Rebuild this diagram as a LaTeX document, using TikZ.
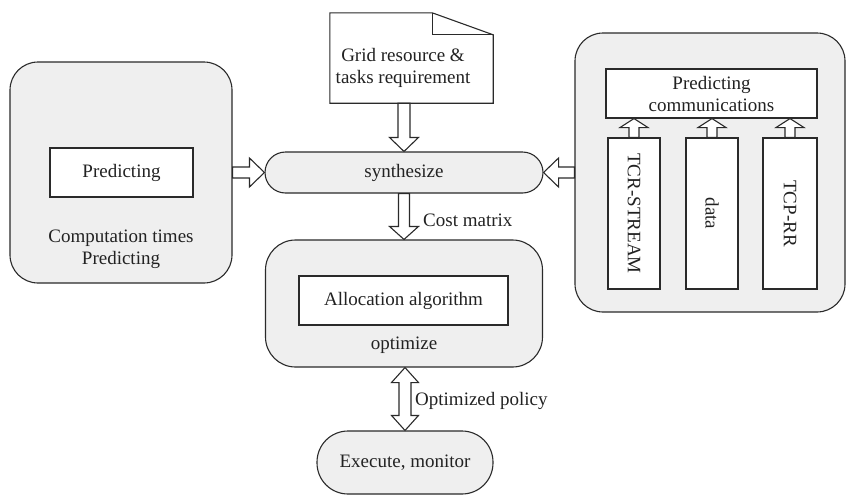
\documentclass[tikz,border=0pt]{standalone}
\usepackage{fontspec}
\setmainfont{Liberation Serif}
\usetikzlibrary{calc}
\definecolor{linec}{HTML}{2A2A2A}
\definecolor{boxfill}{HTML}{EFEFEF}
\definecolor{txtc}{HTML}{222222}
\tikzset{
  every node/.style={font=\fontsize{19pt}{22pt}\selectfont, text=txtc},
  bigbox/.style={draw=linec, fill=boxfill, line width=1.1pt, rounded corners=28pt, inner sep=0pt},
  inbox/.style={draw=linec, fill=white, line width=1.1pt, inner sep=0pt, align=center},
  capsule/.style={draw=linec, fill=boxfill, line width=1.1pt, inner sep=0pt},
  plain/.style={inner sep=0pt, align=center},
  arrowline/.style={draw=linec, fill=white, line width=1.1pt, line join=miter},
}
% single block arrow: #1 from, #2 to, #3 shaft half width, #4 head half width, #5 head length
\newcommand\blkarrow[5]{%
  \coordinate (hb) at ($(#2)!#5!(#1)$);
  \draw[arrowline] ($(#1)!#3!90:(#2)$) -- ($(hb)!#3!90:(#2)$) -- ($(hb)!#4!90:(#2)$) -- (#2)
    -- ($(hb)!#4!-90:(#2)$) -- ($(hb)!#3!-90:(#2)$) -- ($(#1)!#3!-90:(#2)$) -- cycle;}
% double block arrow
\newcommand\dblkarrow[5]{%
  \coordinate (hbb) at ($(#2)!#5!(#1)$);
  \coordinate (hba) at ($(#1)!#5!(#2)$);
  \draw[arrowline] (#1) -- ($(hba)!#4!-90:(#1)$) -- ($(hba)!#3!-90:(#1)$)
    -- ($(hbb)!#3!90:(#2)$) -- ($(hbb)!#4!90:(#2)$) -- (#2)
    -- ($(hbb)!#4!-90:(#2)$) -- ($(hbb)!#3!-90:(#2)$)
    -- ($(hba)!#3!90:(#1)$) -- ($(hba)!#4!90:(#1)$) -- cycle;}
\begin{document}
\begin{tikzpicture}[x=1pt,y=-1pt]
\useasboundingbox (0,0) rectangle (846,496);

% left box
\node[bigbox, minimum width=222pt, minimum height=221pt] (comp) at (121,172.5) {};
\node[inbox, minimum width=143pt, minimum height=49pt] (pred) at (121.5,172.5) {Predicting};
\node[plain] (comptxt) at (121,249) {Computation times\\Predicting};

% synthesize
\node[capsule, minimum width=278pt, minimum height=41pt, rounded corners=20.5pt] (synth) at (404,172.5) {synthesize};

% document
\node[minimum width=163pt, minimum height=90pt, inner sep=0pt] (doc) at (411.5,58) {};
\draw[arrowline] (doc.north west) -- ($(doc.north east)+(-61,0)$) -- ($(doc.north east)+(0,22)$)
  -- (doc.south east) -- (doc.south west) -- cycle;
\draw[draw=linec, line width=1.1pt] ($(doc.north east)+(-61,0)$) -- ($(doc.north east)+(-61,22)$) -- ($(doc.north east)+(0,22)$);
\node[plain] (doctxt) at (403,68) {Grid resource \&\\tasks requirement};

% right box
\node[bigbox, minimum width=270pt, minimum height=279pt] (rbox) at (710,172.5) {};
\node[inbox, minimum width=211pt, minimum height=49pt] (pc) at (711.5,93.5) {Predicting\\communications};
\node[inbox, minimum width=52pt, minimum height=151pt] (tcr) at (634,213.5) {};
\node[plain, rotate=-90] (tcrtxt) at (tcr.center) {TCR-STREAM};
\node[inbox, minimum width=52pt, minimum height=151pt] (dat) at (712,213.5) {};
\node[plain, rotate=-90] (dattxt) at (dat.center) {data};
\node[inbox, minimum width=54pt, minimum height=151pt] (tcp) at (790,213.5) {};
\node[plain, rotate=-90] (tcptxt) at (tcp.center) {TCP-RR};

% optimize
\node[bigbox, minimum width=277pt, minimum height=127pt, rounded corners=30pt] (opt) at (404,303.5) {};
\node[inbox, minimum width=209pt, minimum height=49pt] (alloc) at (403.5,300.5) {Allocation algorithm};
\node[plain] (opttxt) at (404,345) {optimize};

% execute
\node[capsule, minimum width=176pt, minimum height=63pt, rounded corners=31pt] (exe) at (405,462.5) {Execute, monitor};

% coordinates for arrows
\coordinate (a1s) at (doc.south -| synth.north);
\coordinate (a3s) at (opt.north -| synth.south);
\coordinate (a4s) at (opt.south -| exe.north);
\coordinate (p1) at (tcr.north |- pc.south);
\coordinate (p2) at (dat.north |- pc.south);
\coordinate (p3) at (tcp.north |- pc.south);

% arrows
\blkarrow{a1s}{synth.north}{6pt}{14.5pt}{14pt}
\blkarrow{comp.east}{synth.west}{5.5pt}{14.5pt}{15pt}
\blkarrow{rbox.west}{synth.east}{5.5pt}{14.5pt}{15pt}
\blkarrow{synth.south}{a3s}{5.5pt}{14.5pt}{13pt}
\dblkarrow{a4s}{exe.north}{6pt}{13.5pt}{15pt}
\blkarrow{tcr.north}{p1}{5pt}{14pt}{9pt}
\blkarrow{dat.north}{p2}{5pt}{14pt}{9pt}
\blkarrow{tcp.north}{p3}{5pt}{14pt}{9pt}

% labels
\node[plain, anchor=west] (costlbl) at (423,220) {Cost matrix};
\node[plain, anchor=west] (pollbl) at (415,401) {Optimized policy};
\end{tikzpicture}
\end{document}
